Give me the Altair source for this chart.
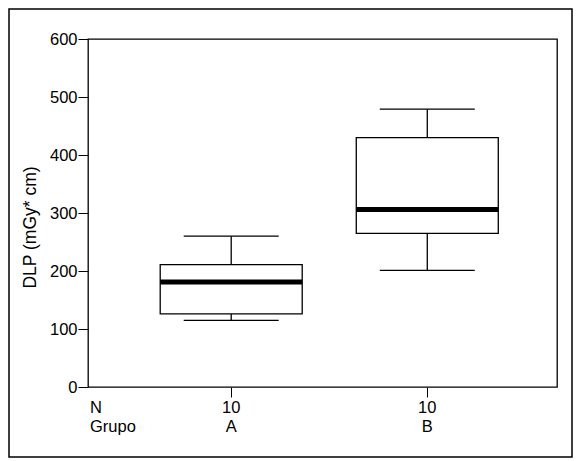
import altair as alt
import pandas as pd

grupos = ["A", "B"]
n_vals = ["10", "10"]
minimo = [115, 201]
q1 = [126, 265]
mediana = [181, 306]
q3 = [211, 430]
maximo = [260, 479]
y_ticks = [0, 100, 200, 300, 400, 500, 600]

df = pd.DataFrame({"grupo": grupos, "n": n_vals, "mn": minimo, "q1": q1,
                   "med": mediana, "q3": q3, "mx": maximo})

FONT = "Liberation Sans"
FS = 16.5
W, H = 469, 348

xenc = alt.X("grupo:N",
             scale=alt.Scale(type="point", padding=0.696, align=0.5247),
             axis=alt.Axis(title=None, labels=False, domain=False, ticks=True,
                           tickSize=10, tickColor="black", tickWidth=1, grid=False))

base = alt.Chart(df).encode(x=xenc)

yaxis = alt.Axis(values=y_ticks, title="DLP (mGy* cm)", tickSize=10, labelPadding=1,
                 labelFontSize=FS, titleFontSize=17.5, grid=False, domain=False,
                 tickColor="black", labelColor="black", titleColor="black",
                 titleFontWeight="normal", titleY=188, titlePadding=10)
yscale = alt.Scale(domain=[0, 600], nice=False)

frame = alt.Chart(pd.DataFrame({"k": [0]})).mark_rect(
    fill="transparent", stroke="black", strokeWidth=1.5
).encode(x=alt.value(-79), x2=alt.value(484), y=alt.value(-30), y2=alt.value(418))

lower = base.mark_rule(color="black", strokeWidth=1.3).encode(
    y=alt.Y("mn:Q", scale=yscale, axis=yaxis), y2="q1:Q")
upper = base.mark_rule(color="black", strokeWidth=1.3).encode(
    y=alt.Y("q3:Q", scale=yscale), y2="mx:Q")
box = base.mark_bar(size=142, fill="white", stroke="black", strokeWidth=1.3).encode(
    y=alt.Y("q1:Q", scale=yscale), y2="q3:Q")
med = base.mark_tick(size=142, thickness=5, color="black", opacity=1).encode(
    y=alt.Y("med:Q", scale=yscale))
cap_lo = base.mark_tick(size=95, thickness=1.3, color="black", opacity=1).encode(
    y=alt.Y("mn:Q", scale=yscale))
cap_hi = base.mark_tick(size=95, thickness=1.3, color="black", opacity=1).encode(
    y=alt.Y("mx:Q", scale=yscale))

txt_n = base.mark_text(baseline="alphabetic", fontSize=FS, font=FONT, color="black").encode(
    y=alt.value(H + 26), text="n:N")
txt_g = base.mark_text(baseline="alphabetic", fontSize=FS, font=FONT, color="black").encode(
    y=alt.value(H + 45), text="grupo:N")

lab_n = alt.Chart(pd.DataFrame({"t": ["N"]})).mark_text(
    align="left", baseline="alphabetic", fontSize=FS, font=FONT, color="black"
).encode(x=alt.value(2), y=alt.value(H + 26), text="t:N")
lab_g = alt.Chart(pd.DataFrame({"t": ["Grupo"]})).mark_text(
    align="left", baseline="alphabetic", fontSize=FS, font=FONT, color="black"
).encode(x=alt.value(2), y=alt.value(H + 45), text="t:N")

chart = alt.layer(frame, lower, upper, box, med, cap_lo, cap_hi, txt_n, txt_g, lab_n, lab_g).properties(
    width=W, height=H, padding={"left": 0, "top": 0, "right": 0, "bottom": 0},
    background="white"
).configure_view(stroke="black", strokeWidth=1.3).configure_axis(
    labelFont=FONT, titleFont=FONT
)

chart.save("out.html", embed_options={"renderer": "svg", "actions": False})
